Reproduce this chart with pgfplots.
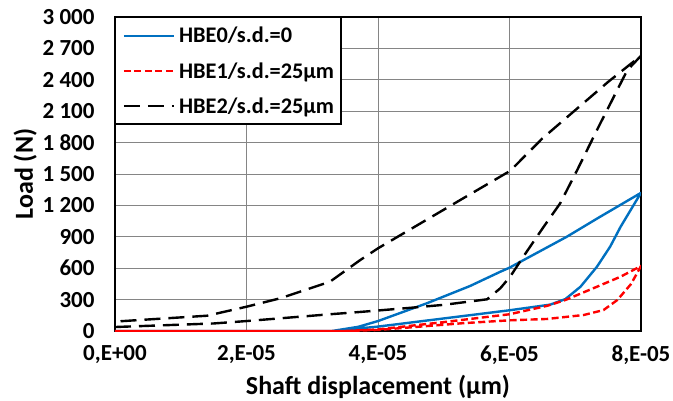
\documentclass[border=0pt]{standalone}
\usepackage{fontspec}
\setmainfont{Carlito}
\usepackage{pgfplots}
\pgfplotsset{compat=1.18}

\definecolor{hbeblue}{HTML}{0070C0}
\definecolor{gridgray}{HTML}{858585}
\newcommand{\tickfont}{\fontsize{23bp}{27bp}\selectfont\bfseries}
\newcommand{\legfont}{\fontsize{22.3bp}{27bp}\selectfont\bfseries}
\newcommand{\labfont}{\fontsize{26bp}{31bp}\selectfont\bfseries}

\begin{document}
\begin{tikzpicture}
\begin{axis}[
  name=ax,
  scale only axis,
  width=526bp, height=314bp,
  xmin=0, xmax=8, ymin=0, ymax=3000,
  axis line style={black, line width=1.2bp},
  xtick={0,2,4,6,8},
  xticklabels={{0,E+00},{2,E-05},{4,E-05},{6,E-05},{8,E-05}},
  ytick={0,300,600,900,1200,1500,1800,2100,2400,2700,3000},
  yticklabels={0,300,600,900,1~200,1~500,1~800,2~100,2~400,2~700,3~000},
  major tick length=0pt,
  grid=major,
  major grid style={gridgray, line width=0.9bp},
  tick label style={font=\tickfont},
  yticklabel style={xshift=-17bp},
  xticklabel style={yshift=-11bp},
  xlabel={Shaft displacement (µm)},
  ylabel={Load (N)},
  label style={font=\labfont, inner sep=0pt},
  xlabel style={at={(axis description cs:0.5,0)}, anchor=north, yshift=-44bp},
  ylabel style={at={(axis description cs:0,0.5)}, anchor=south, yshift=78bp},
  legend image code/.code={\draw[#1] (0bp,0bp) -- (50bp,0bp);},
  legend cell align=left,
  legend style={at={(0,1)}, anchor=north west, draw=black, line width=1.5bp,
    fill=white, font=\legfont, inner xsep=7bp, inner ysep=9.5bp,
    row sep=18bp, column sep=4bp, nodes={inner sep=0pt}},
]
% HBE0 / s.d. = 0
\addplot[hbeblue, line width=2.4bp, line join=round] coordinates {
  (0,0) (3.3,0) (3.7,40) (4,95) (4.74,264) (5.4,430) (5.86,566) (6.0,605)
  (6.87,900) (7.38,1092) (8,1320)
  (7.69,996) (7.53,805) (7.33,614) (7.08,423) (6.85,305)
  (6.62,252) (6,198) (5,120) (4,42) (3.3,0)
};
\addlegendentry{HBE0/s.d.=0}
% HBE1 / s.d. = 25 um
\addplot[red, line width=2.4bp, dash pattern=on 7bp off 3.5bp] coordinates {
  (0,0) (3.5,0) (4,15) (5,85) (6,160) (6.57,240) (6.85,296) (7.33,423)
  (7.69,519) (8,621)
  (7.85,450) (7.64,296) (7.43,200) (7.13,153) (6.57,115) (6,102)
  (5.3,75) (4.5,35) (4,10) (3.5,0) (0,0)
};
\addlegendentry{HBE1/s.d.=25µm}
% HBE2 / s.d. = 25 um
\addplot[black, line width=2.4bp, dash pattern=on 16bp off 8bp] coordinates {
  (0,38) (1.5,72) (2,95) (3.27,160) (3.73,182) (4.5,222) (5,250) (5.66,303)
  (5.86,408) (6.01,519) (6.21,710) (6.52,996) (6.77,1219) (7.03,1538)
  (7.33,1920) (7.79,2490) (8,2630)
  (7.5,2380) (7,2110) (6.5,1840) (6.01,1530) (5.25,1251) (4,790) (3.73,678)
  (3.27,471) (2.51,312) (2,232) (1.4,146) (0,90)
};
\addlegendentry{HBE2/s.d.=25µm}
\end{axis}
\pgfresetboundingbox
\useasboundingbox (ax.south west) ++(-115bp,-70bp) rectangle ++(673bp,401bp);
\end{tikzpicture}
\end{document}
